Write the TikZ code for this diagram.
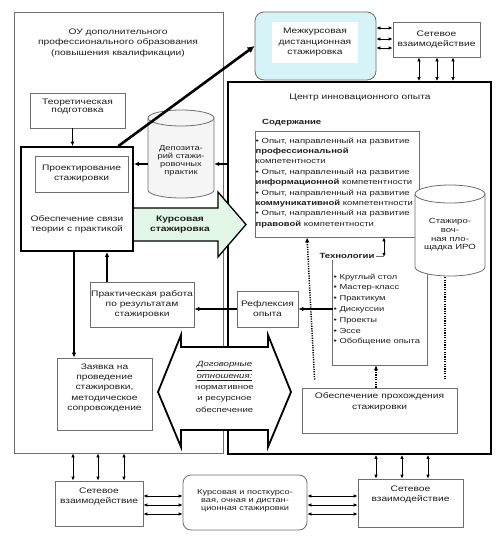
\documentclass[tikz,border=0pt]{standalone}
\usepackage{fontspec}
\setmainfont{Liberation Sans}[FakeStretch=1.28]
\usetikzlibrary{arrows.meta,calc}
\definecolor{mezhc}{RGB}{214,243,247}
\definecolor{kursc}{RGB}{226,247,231}
\definecolor{bordc}{RGB}{110,110,110}
\definecolor{txtc}{RGB}{30,30,30}
\begin{document}
\begin{tikzpicture}[x=1pt,y=-1pt,
  font=\fontsize{8}{10}\selectfont, text=txtc,
  gbox/.style={draw=bordc, line width=0.8pt, fill=white, inner sep=0pt, align=center},
  kbox/.style={draw=black, line width=1.8pt, inner sep=0pt},
  txt/.style={align=center, inner sep=0pt},
  arr/.style={line width=1.4pt, -{Latex[length=5pt,width=4.5pt]}},
  arrs/.style={line width=0.9pt, -{Latex[length=4.5pt,width=4pt]}},
  darr/.style={line width=1pt, {Latex[length=4pt,width=3.6pt]}-{Latex[length=4pt,width=3.6pt]}},
  dotarr/.style={line width=1.5pt, dash pattern=on 1.2pt off 1.2pt, -{Latex[length=5pt,width=4.5pt]}},
  dotl/.style={line width=1.5pt, dash pattern=on 1.2pt off 1.2pt},
  cyl/.style={draw=bordc, line width=0.8pt},
]
\fill[white] (0,0) rectangle (502,539);
\useasboundingbox (0,0) rectangle (502,539);

% big frames
\node[draw=bordc, line width=0.9pt, minimum width=209pt, minimum height=441pt, inner sep=0pt] (ou) at (118.5,232.5) {};
\node[txt, font=\fontsize{8}{10.5}\selectfont] (outitle) at (118,43) {ОУ дополнительного\\профессионального образования\\(повышения квалификации)};
\node[kbox, minimum width=263pt, minimum height=372pt] (centr) at (359.5,268) {};
\node[txt] (centrt) at (360,98) {Центр инновационного опыта};

% top
\node[draw=bordc, line width=0.8pt, rounded corners=9pt, fill=mezhc, minimum width=121pt, minimum height=68pt, inner sep=0pt] (mezh) at (315.5,46) {};
\node[txt, fill=white, minimum width=86pt, minimum height=41pt, font=\fontsize{8}{10.5}\selectfont] (mezht) at (315,42.5) {Межкурсовая\\дистанционная\\стажировка};
\node[gbox, minimum width=87pt, minimum height=35pt, font=\fontsize{8}{10.5}\selectfont] (setT) at (436.5,39.5) {Сетевое\\взаимодействие};
\foreach \s in {11.5,0.5,-8.5}
  \draw[darr] ([yshift=\s pt]setT.west) -- ([yshift=\s pt]setT.west -| mezh.east);
\foreach \s in {-17.5,0.5,16.5}
  \draw[darr] ([xshift=\s pt]setT.south) -- ([xshift=\s pt]setT.south |- centr.north);

% left column
\node[gbox, minimum width=95pt, minimum height=35pt] (teor) at (77.5,110.5) {};
\node[txt, font=\fontsize{8}{8.6}\selectfont] (teort) at (77.5,106.5) {Теоретическая\\подготовка};
\node[kbox, minimum width=112pt, minimum height=104pt] (obesp) at (77,199) {};
\node[gbox, minimum width=93pt, minimum height=36pt] (proekt) at (81.5,174) {Проектирование\\стажировки};
\node[txt] (obespt) at (77,224.5) {Обеспечение связи\\теории с практикой};
\draw[arrs] ([xshift=-5pt]teor.south) -- ([xshift=-5pt]teor.south |- obesp.north);

% depository cylinder
\node[minimum width=66pt, minimum height=60pt, inner sep=0pt] (dep) at (181,164) {};
\path[cyl, fill=black!4] (148,118) -- (148,190) arc[start angle=180,end angle=360,x radius=33pt,y radius=8pt] -- (214,118) arc[start angle=0,end angle=180,x radius=33pt,y radius=8pt] -- cycle;
\draw[cyl] (148,118) arc[start angle=180,end angle=360,x radius=33pt,y radius=8pt];
\node[txt, font=\fontsize{7.3}{7.9}\selectfont] (dept) at (181,161) {Депозита-\\рий стажи-\\ровочных\\практик};

\draw[line width=2.6pt, -{Latex[length=7pt,width=7pt]}] (obesp.52) -- (mezh.west);
\draw[arr] (centr.west |- dep.east) -- (dep.east);
\draw[arr] (dep.west) -- (obesp.east |- dep.west);

% green arrow
\path[fill=kursc] (134,208) -- (218,208) -- (218,192) -- (246,224.5) -- (218,257) -- (218,241) -- (134,241) -- cycle;
\draw[line width=1.3pt, line join=miter] (133,208) -- (218,208) -- (218,192) -- (246,224.5) -- (218,257) -- (218,241) -- (133,241);
\node[txt, font=\bfseries\fontsize{8}{10.5}\selectfont] (kurs) at (180,224.5) {Курсовая\\стажировка};

% content
\node[txt, anchor=west, font=\bfseries\fontsize{7.5}{9}\selectfont] (sodt) at (262,123) {Содержание};
\node[gbox, minimum width=164pt, minimum height=106pt] (sod) at (337,184) {};
\node[txt, align=left, anchor=north west, font=\fontsize{7.4}{10.4}\selectfont] (sodl) at (255.5,137.5) {• Опыт, направленный на развитие\\\textbf{профессиональной}\\компетентности\\• Опыт, направленный на развитие\\\textbf{информационной} компетентности\\• Опыт, направленный на развитие\\\textbf{коммуникативной} компетентности\\• Опыт, направленный на развитие\\\textbf{правовой} компетентности};

% technologies
\node[minimum width=94pt, minimum height=108pt, inner sep=0pt] (tech) at (380,311) {};
\draw[draw=bordc, line width=0.8pt] (tech.north west) -- (tech.south west) -- (tech.south east) -- (tech.north east);
\draw[draw=bordc, line width=0.8pt] (tech.north west) -- ([xshift=4pt]tech.north);
\node[txt, fill=white, inner sep=1pt, font=\bfseries\fontsize{7.5}{9}\selectfont] (techt) at (347,256) {Технологии};
\draw[darr] ([xshift=47pt]sod.south) -- ([xshift=47pt]sod.south |- tech.north);
\node[txt, align=left, anchor=north west, font=\fontsize{7.3}{10.8}\selectfont] (techl) at (333.5,273.5) {• Круглый стол\\• Мастер-класс\\• Практикум\\• Дискуссии\\• Проекты\\• Эссе\\• Обобщение опыта};

% IRO cylinder
\node[minimum width=70pt, minimum height=73pt, inner sep=0pt] (iro) at (450,230.5) {};
\path[cyl, fill=white] (415,194) -- (415,267) arc[start angle=180,end angle=360,x radius=35pt,y radius=9pt] -- (485,194) arc[start angle=0,end angle=180,x radius=35pt,y radius=9pt] -- cycle;
\draw[cyl] (415,194) arc[start angle=180,end angle=360,x radius=35pt,y radius=9pt];
\node[txt, font=\fontsize{7.5}{8.7}\selectfont] (irot) at (450,235) {Стажиро-\\воч-\\ная пло-\\щадка ИРО};

% reflection and practice
\node[gbox, minimum width=61pt, minimum height=36pt] (refl) at (267.5,309) {Рефлексия\\опыта};
\node[gbox, minimum width=104pt, minimum height=45pt] (prakt) at (142,304.5) {Практическая работа\\по результатам\\стажировки};
\draw[arr] (tech.west |- refl.east) -- (refl.east);
\draw[arr] (refl.west) -- (prakt.east |- refl.west);
\draw[arr] ([xshift=-35pt]prakt.north) -- ([xshift=-35pt]prakt.north |- obesp.south);

% request
\node[gbox, minimum width=95pt, minimum height=72pt] (zay) at (104.5,394) {};
\node[txt, font=\fontsize{8}{10.2}\selectfont] (zayt) at (104.5,388) {Заявка на\\проведение\\стажировки,\\методическое\\сопровождение};
\draw[arr] ([xshift=-3pt]obesp.south) -- ([xshift=-3pt]obesp.south |- zay.north);

% ensuring box
\node[gbox, minimum width=155pt, minimum height=45pt] (obprox) at (379.5,410.5) {};
\node[txt, font=\fontsize{8}{10.5}\selectfont] (obproxt) at (379.5,402) {Обеспечение прохождения\\стажировки};
\draw[dotarr] ([xshift=-3.5pt]obprox.north) -- ([xshift=-3.5pt]obprox.north |- tech.south);
\draw[dotarr] ([xshift=13pt,yshift=8pt]obprox.north west) -- ([xshift=-30pt]sod.south);
\draw[dotl] ([xshift=-5pt,yshift=-10pt]iro.south) -- ([xshift=-5pt,yshift=8pt]iro.south |- obprox.north);

% contractual double arrow
\path[draw=black, line width=1.8pt, fill=white, line join=miter] (158,392) -- (181,335) -- (181,347) -- (268,347) -- (268,335) -- (291,392) -- (268,447) -- (268,430) -- (181,430) -- (181,447) -- cycle;
\node[txt, font=\fontsize{7.5}{11.3}\selectfont] (dog) at (224.5,387) {\underline{\textit{Договорные}}\\\underline{\textit{отношения:}}\\нормативное\\и ресурсное\\обеспечение};

% bottom row
\node[gbox, minimum width=88pt, minimum height=45pt] (setL) at (99,503.5) {};
\node[txt, font=\fontsize{8}{10.5}\selectfont] (setLt) at (99,496.5) {Сетевое\\взаимодействие};
\node[gbox, rounded corners=8pt, minimum width=124pt, minimum height=55pt] (kp) at (245,502.5) {};
\node[txt, font=\fontsize{7.2}{7.9}\selectfont] (kpt) at (245,500.5) {Курсовая и посткурсо-\\вая, очная и дистан-\\ционная стажировки};
\node[gbox, minimum width=105pt, minimum height=48pt] (setR) at (410.5,503) {};
\node[txt, font=\fontsize{8}{10.5}\selectfont] (setRt) at (410.5,494.5) {Сетевое\\взаимодействие};
\foreach \s in {-26,-1,25}
  \draw[darr] ([xshift=\s pt]setL.north) -- ([xshift=\s pt]setL.north |- ou.south);
\foreach \s in {-34.5,-8.5,17.5}
  \draw[darr] ([xshift=\s pt]setR.north) -- ([xshift=\s pt]setR.north |- centr.south);
\foreach \s in {6.5,-2.5,-11.5} {
  \draw[darr] ([yshift=\s pt]kp.west) -- ([yshift=\s pt]kp.west -| setL.east);
  \draw[darr] ([yshift=\s pt]kp.east) -- ([yshift=\s pt]kp.east -| setR.west);
}
\end{tikzpicture}
\end{document}
